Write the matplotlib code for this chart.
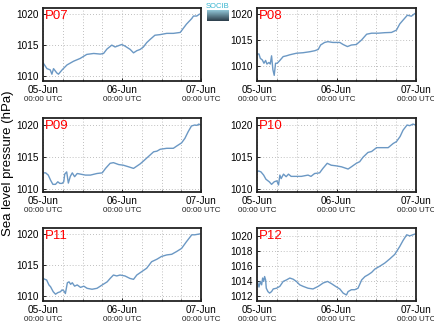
import numpy as np
import pandas as pd
import matplotlib
matplotlib.use("Agg")
import matplotlib.pyplot as plt
import matplotlib.dates as mdates
import matplotlib.transforms as mtransforms

# hours after 05-Jun 00:00 UTC and sea level pressure (hPa)
p07_h = [0, 0.7, 1.2, 2.2, 2.7, 3.2, 4.2, 4.7, 5.8, 7.3, 9.3, 11.3, 13.3, 15.4, 17.4, 18.4,
         19.4, 20.9, 21.9, 22.9, 23.9, 24.9, 26.5, 27.5, 28.5, 29.5, 30.5, 31.5, 32.5, 34.0,
         35.6, 37.6, 39.6, 41.7, 42.6, 43.6, 45.2, 45.7, 46.7, 47.5]
p07_v = [1012.15, 1011.6, 1011.2, 1011.0, 1010.3, 1011.2, 1010.5, 1010.3, 1011.0, 1011.8,
         1012.4, 1012.85, 1013.5, 1013.65, 1013.55, 1013.65, 1014.35, 1015.0, 1014.7, 1014.9,
         1015.1, 1014.85, 1014.3, 1013.75, 1014.1, 1014.3, 1014.7, 1015.4, 1015.9, 1016.6,
         1016.7, 1016.9, 1016.9, 1017.05, 1017.7, 1018.4, 1019.3, 1019.7, 1019.7, 1020.0]

p08_h = [0, 0.6, 1.0, 1.6, 2.1, 2.6, 3.0, 3.6, 4.0, 4.4, 4.8, 5.2, 5.6, 6.1, 6.9, 7.9, 8.9,
         9.9, 11.9, 13.9, 16.0, 17.5, 18.5, 19.2, 20.4, 21.4, 22.9, 25.0, 26.0, 27.3, 28.5,
         30.0, 31.6, 33.1, 34.6, 36.6, 38.6, 40.6, 42.1, 43.1, 44.1, 45.4, 46.6, 47.6]
p08_v = [1012.26, 1012.25, 1011.4, 1011.1, 1010.45, 1011.0, 1010.3, 1010.6, 1010.3, 1011.9,
         1009.2, 1008.1, 1010.45, 1010.45, 1011.0, 1011.75, 1011.9, 1012.1, 1012.4, 1012.5,
         1012.7, 1012.9, 1013.15, 1014.0, 1014.5, 1014.65, 1014.5, 1014.5, 1014.1, 1013.7,
         1014.0, 1014.1, 1015.0, 1016.1, 1016.3, 1016.3, 1016.4, 1016.45, 1016.9, 1018.1,
         1018.85, 1019.8, 1019.6, 1020.1]

p09_h = [0, 0.8, 1.6, 2.3, 3.0, 3.8, 4.5, 5.1, 5.8, 6.3, 6.6, 7.2, 7.7, 8.3, 8.9, 9.6,
         10.4, 11.4, 12.9, 14.4, 16.4, 18.0, 19.0, 20.4, 21.4, 23.0, 24.4, 26.0, 27.5, 28.5,
         29.5, 30.5, 32.0, 33.6, 34.6, 35.6, 37.6, 39.6, 40.6, 42.1, 43.1, 44.1, 45.1, 46.1,
         46.8, 47.3, 47.9]
p09_v = [1012.5, 1012.5, 1012.15, 1011.35, 1010.7, 1010.7, 1011.1, 1010.85, 1010.85, 1011.1,
         1012.3, 1012.65, 1010.9, 1011.95, 1012.5, 1011.9, 1012.4, 1012.3, 1012.15, 1012.15,
         1012.4, 1012.5, 1013.2, 1014.0, 1014.1, 1013.8, 1013.7, 1013.45, 1013.2, 1013.55,
         1013.9, 1014.35, 1015.05, 1015.8, 1015.9, 1016.2, 1016.35, 1016.35, 1016.7, 1017.2,
         1017.9, 1018.95, 1019.85, 1020.0, 1019.95, 1020.15, 1020.0]

p10_h = [0, 0.5, 1.2, 2.0, 2.7, 3.7, 4.4, 5.2, 6.0, 6.5, 6.9, 7.3, 8.0, 8.8, 9.5, 10.3,
         11.8, 13.4, 15.4, 16.3, 17.4, 18.9, 19.9, 21.2, 22.4, 23.9, 25.5, 27.5, 28.5, 30.0,
         31.0, 32.0, 33.5, 34.6, 36.1, 37.6, 39.6, 41.1, 42.1, 43.2, 44.1, 45.3, 46.1, 47.1,
         47.8]
p10_v = [1012.65, 1012.8, 1012.65, 1012.15, 1011.5, 1011.1, 1010.7, 1011.1, 1011.25, 1010.6,
         1012.15, 1011.6, 1012.3, 1011.9, 1012.3, 1011.95, 1011.95, 1011.95, 1012.15, 1011.95,
         1012.4, 1012.5, 1013.2, 1014.0, 1013.7, 1013.6, 1013.45, 1013.1, 1013.45, 1014.0,
         1014.25, 1014.95, 1015.7, 1015.85, 1016.45, 1016.45, 1016.45, 1017.1, 1017.4, 1018.2,
         1019.2, 1020.0, 1019.9, 1020.15, 1020.0]

p11_h = [0, 0.6, 1.1, 1.8, 2.3, 3.1, 3.8, 4.5, 5.3, 5.8, 6.4, 6.8, 7.4, 7.9, 8.4, 8.9,
         9.6, 10.4, 11.4, 12.4, 13.4, 14.9, 16.4, 18.0, 19.5, 20.4, 21.4, 22.4, 23.4, 24.9,
         26.4, 27.5, 28.5, 30.0, 31.5, 33.0, 34.6, 36.0, 37.6, 39.1, 40.6, 42.1, 43.6, 45.2,
         46.1, 47.7]
p11_v = [1012.85, 1012.7, 1012.6, 1011.8, 1011.5, 1010.7, 1010.3, 1010.55, 1010.7, 1011.0,
         1010.8, 1010.4, 1012.15, 1012.3, 1011.9, 1012.15, 1011.6, 1011.8, 1011.4, 1011.6,
         1011.25, 1011.1, 1011.25, 1011.8, 1012.3, 1012.85, 1013.4, 1013.25, 1013.4, 1013.25,
         1012.85, 1012.7, 1013.4, 1013.95, 1014.5, 1015.55, 1015.95, 1016.4, 1016.65, 1016.75,
         1017.2, 1017.7, 1018.8, 1019.9, 1019.9, 1020.05]

p12_h = [0, 0.6, 1.0, 1.4, 1.7, 2.0, 2.3, 2.6, 2.8, 3.3, 3.8, 4.4, 4.9, 5.9, 6.9, 7.9,
         8.9, 9.9, 10.9, 11.9, 12.9, 13.9, 15.4, 16.9, 18.5, 20.0, 21.3, 22.5, 23.7, 25.0,
         26.0, 27.0, 27.5, 28.5, 29.5, 30.5, 31.6, 32.6, 33.6, 34.6, 35.6, 37.0, 38.6, 40.1,
         41.6, 43.1, 44.1, 45.2, 46.1, 47.7]
p12_v = [1014.1, 1013.15, 1013.9, 1013.45, 1014.35, 1013.9, 1014.55, 1014.1, 1013.0,
         1012.55, 1012.35, 1012.55, 1012.9, 1013.0, 1013.25, 1013.9, 1014.1, 1014.35, 1014.2,
         1013.9, 1013.45, 1013.25, 1013.0, 1012.9, 1013.25, 1013.7, 1013.9, 1013.6, 1013.25,
         1012.9, 1012.35, 1012.1, 1012.55, 1012.8, 1012.8, 1013.0, 1014.1, 1014.55, 1014.8,
         1015.1, 1015.55, 1015.9, 1016.35, 1016.9, 1017.5, 1018.55, 1019.35, 1020.1, 1019.95,
         1020.2]

stations = ["P07", "P08", "P09", "P10", "P11", "P12"]
hours = [p07_h, p08_h, p09_h, p10_h, p11_h, p12_h]
values = [p07_v, p08_v, p09_v, p10_v, p11_v, p12_v]
ylims = [(1009.2, 1021.0), (1007.0, 1021.2), (1009.5, 1021.1),
         (1009.5, 1021.1), (1009.2, 1021.0), (1011.3, 1021.0)]
yticks = [[1010, 1015, 1020]] * 5 + [[1012, 1014, 1016, 1018, 1020]]
day_labels = ["05-Jun", "06-Jun", "07-Jun"]

plt.rcParams["font.family"] = ["Liberation Sans", "DejaVu Sans"]

start = pd.Timestamp("2013-06-05 00:00")
W, H = 435.0, 327.0
# axes boxes in pixels: (left, right) per column, (top, bottom) per row
cols = [(43, 201), (257, 416)]
rows = [(8, 81), (118, 192), (228, 301)]

fig = plt.figure(figsize=(4.35, 3.27), dpi=100)
fig.patch.set_facecolor("white")

for i, name in enumerate(stations):
    x0, x1 = cols[i % 2]
    y0, y1 = rows[i // 2]
    ax = fig.add_axes([x0 / W, 1 - y1 / H, (x1 - x0) / W, (y1 - y0) / H])
    t = start + pd.to_timedelta(hours[i], unit="h")
    ax.plot(t, values[i], color="#6b98c4", lw=1.0)

    ax.set_xlim(start, start + pd.Timedelta(hours=48))
    ax.set_ylim(*ylims[i])
    ax.set_yticks(yticks[i])
    ax.set_yticklabels([str(v) for v in yticks[i]], fontsize=7.2)

    days = [start + pd.Timedelta(days=d) for d in range(3)]
    ax.set_xticks(days)
    ax.set_xticklabels(day_labels, fontsize=7.2)
    ax.xaxis.set_minor_locator(mdates.HourLocator(byhour=[6, 12, 18]))
    ax.tick_params(axis="both", which="both", direction="in", length=2, width=0.6, pad=3)
    ax.tick_params(axis="x", which="minor", length=1.5)

    ax.grid(True, which="both", axis="x", ls=(0, (1, 2.5)), lw=0.6, color="#aaaaaa")
    ax.grid(True, which="major", axis="y", ls=(0, (1, 2.5)), lw=0.6, color="#aaaaaa")
    for sp in ax.spines.values():
        sp.set_linewidth(1.3)
        sp.set_color("#222222")

    trans = mtransforms.blended_transform_factory(ax.transData, ax.transAxes)
    for d in days:
        ax.text(mdates.date2num(d), -0.20, "00:00 UTC", transform=trans,
                ha="center", va="top", fontsize=5.8, color="#222222")

    ax.text(0.01, 0.975, name, transform=ax.transAxes, color="red",
            fontsize=9.5, ha="left", va="top")

fig.text(8 / W, 0.5, "Sea level pressure (hPa)", rotation=90,
         ha="center", va="center", fontsize=9.5)

# small logo at the top
logo = fig.add_axes([207 / W, 1 - 21 / H, 22 / W, 11 / H])
grad = np.linspace(0, 1, 20).reshape(-1, 1)
logo.imshow(grad, aspect="auto", cmap=matplotlib.colors.LinearSegmentedColormap.from_list(
    "lg", ["#8fc4d4", "#2d3f4c"]))
logo.set_axis_off()
fig.text(218 / W, 1 - 6 / H, "SOCIB", color="#38b5d0", fontsize=5.5,
         ha="center", va="center")

fig.savefig("out.png", dpi=100)
